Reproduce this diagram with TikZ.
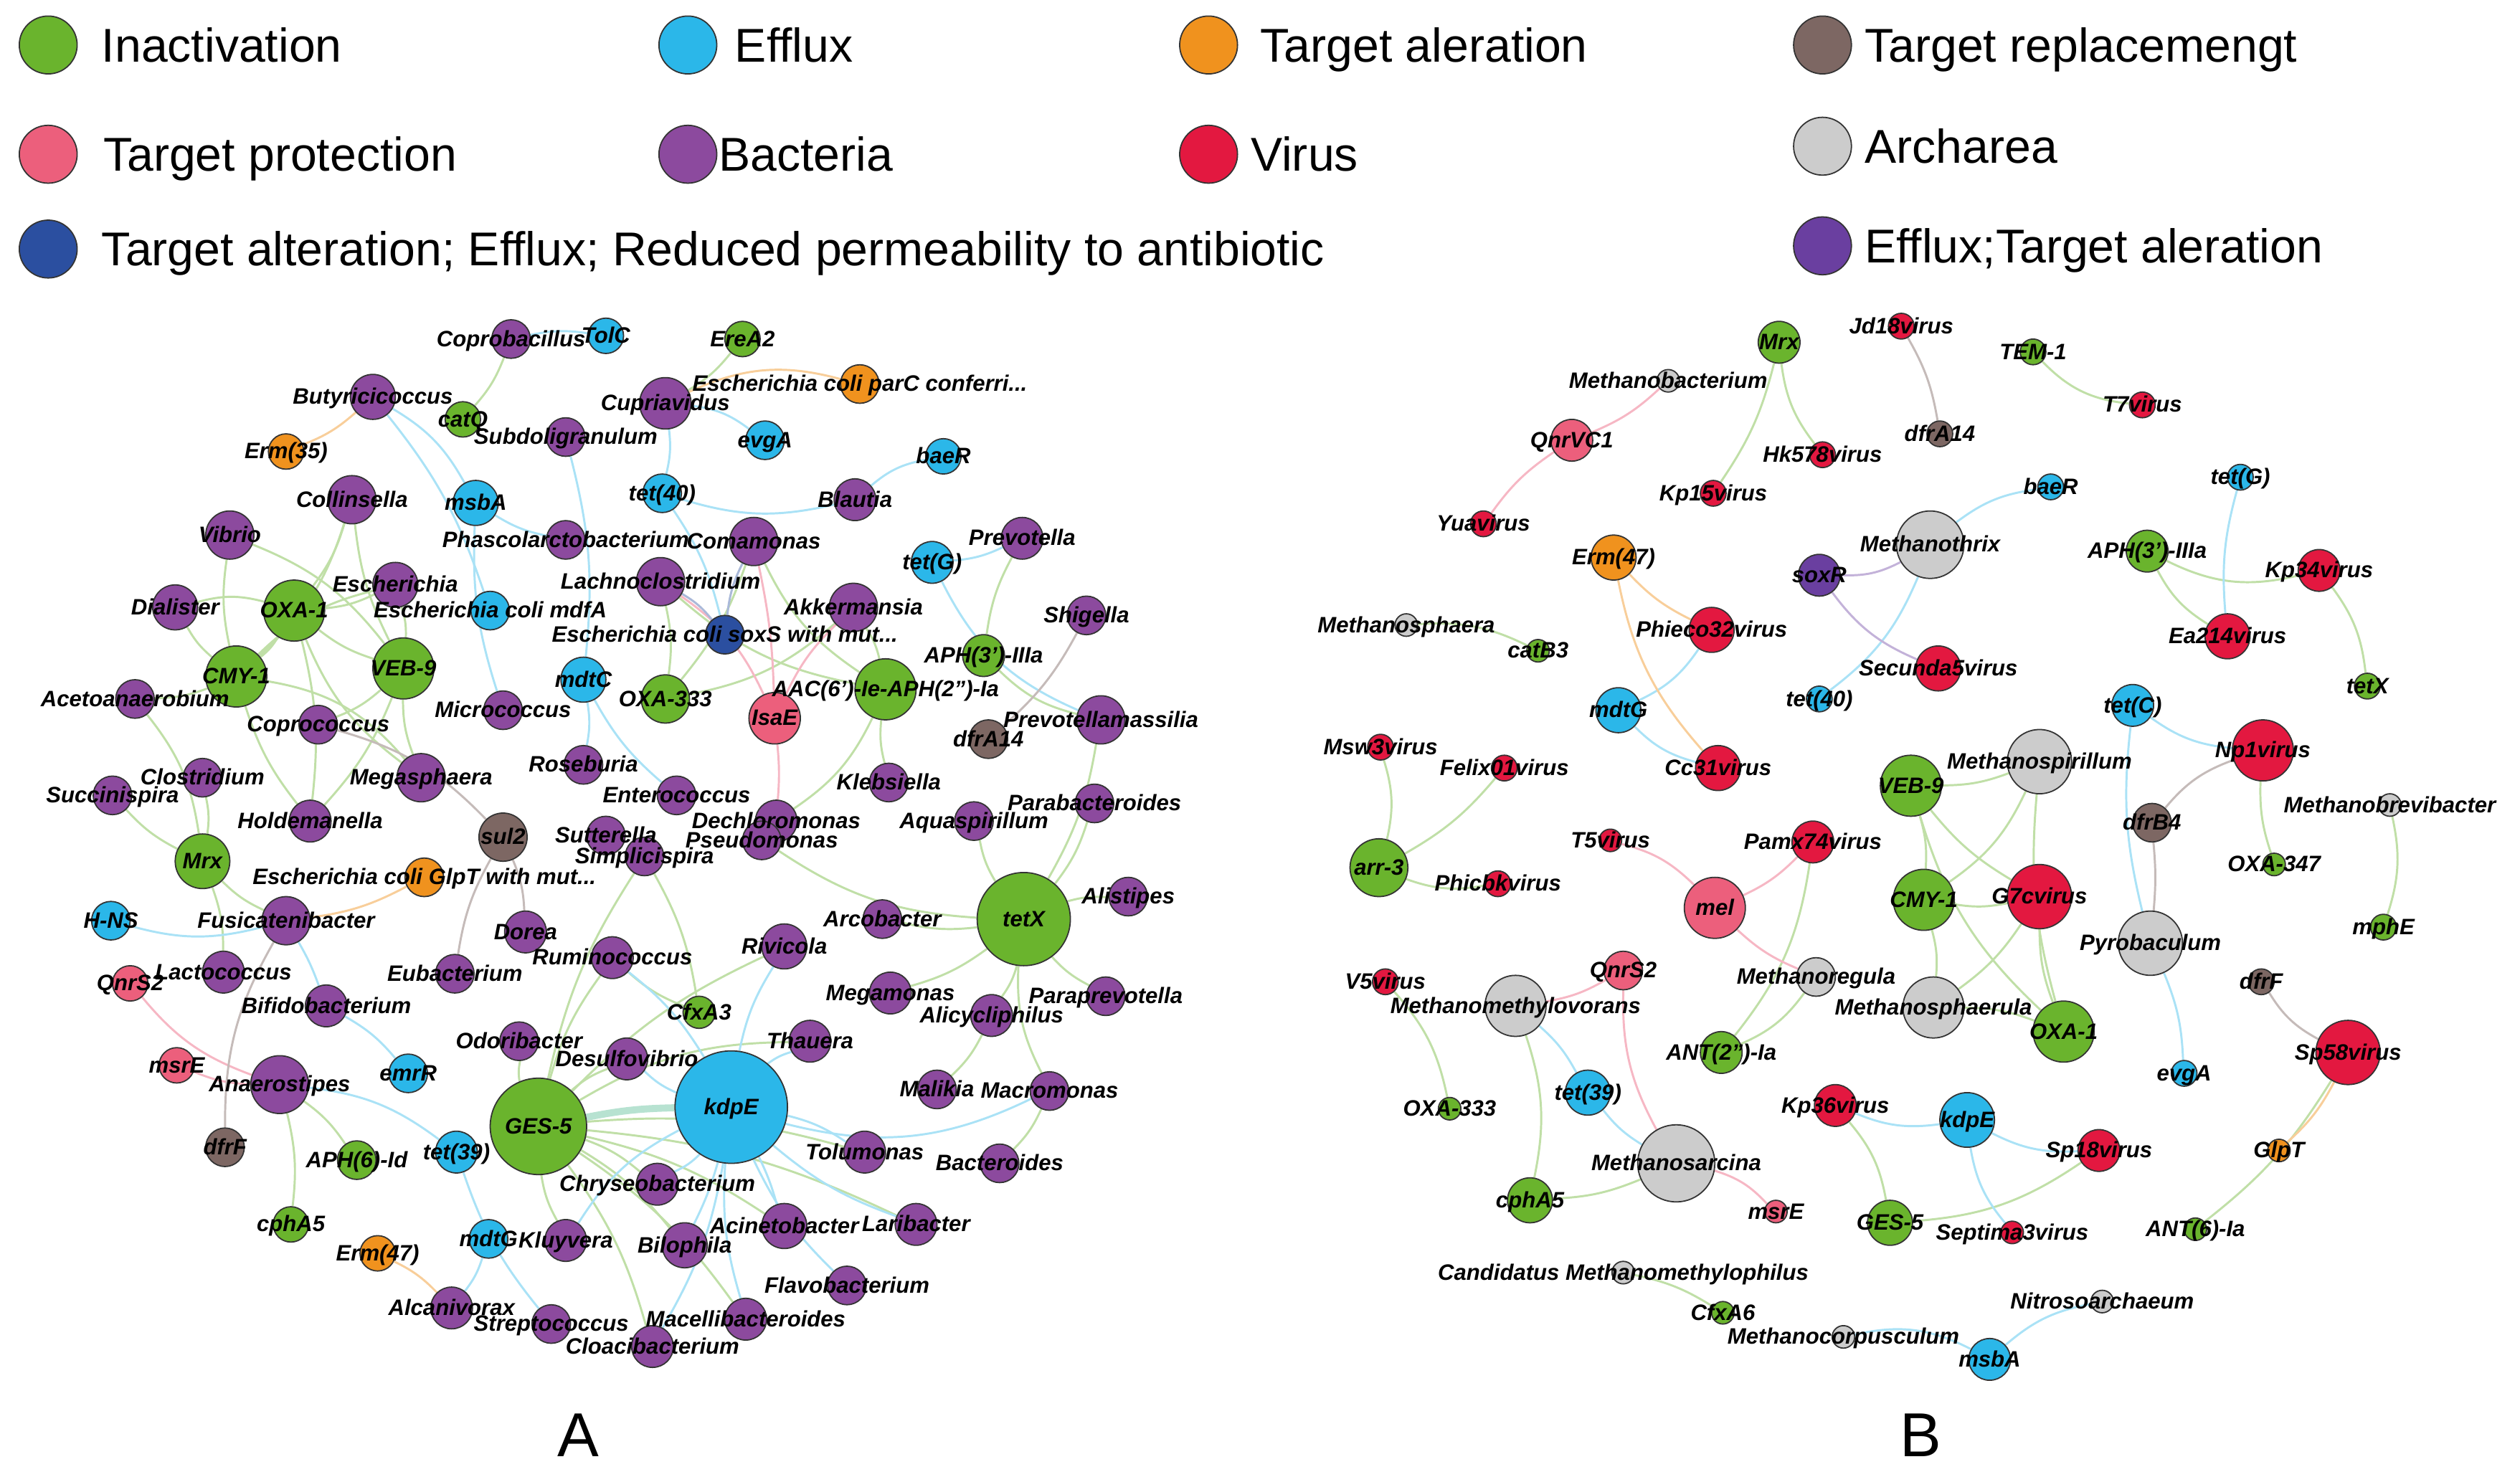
\documentclass[tikz,border=0pt]{standalone}
\usepackage{fontspec}
\setmainfont{Liberation Sans}
\pgfdeclarelayer{bg}
\pgfdeclarelayer{fg}
\pgfsetlayers{bg,main,fg}
\definecolor{cin}{HTML}{6AB42D}
\definecolor{cef}{HTML}{2BB7E9}
\definecolor{cta}{HTML}{F0921E}
\definecolor{ctr}{HTML}{7D6763}
\definecolor{ctp}{HTML}{EC5F7C}
\definecolor{cba}{HTML}{8C4A9E}
\definecolor{cvi}{HTML}{E31840}
\definecolor{car}{HTML}{CCCCCC}
\definecolor{cmd}{HTML}{2B4FA0}
\definecolor{cet}{HTML}{6A3FA0}
\newcommand\labfont{\fontsize{7.9}{9}\selectfont\bfseries\itshape}
\newcommand\legfont{\fontsize{16.8}{20}\selectfont}
\newcommand\ND[6]{\node[nd,fill=#5,minimum size=#4*0.4mm] (#1) at (#2,#3) {};%
  \begin{pgfonlayer}{fg}\node[lab] at (#1.center) {#6};\end{pgfonlayer}}
\newcommand\ED[4][12]{\draw[ed,#4] (#2) to[bend left=#1] (#3);}
\begin{document}
\begin{tikzpicture}[x=0.02cm,y=-0.02cm,
  nd/.style={circle,draw=black!80,line width=0.45pt,inner sep=0pt},
  lab/.style={font=\labfont,inner sep=0pt,text height=0.72em,text depth=0.2em,anchor=center},
  leg/.style={font=\legfont,inner sep=0pt,anchor=base west},
  ed/.style={line width=0.75pt},
  ge/.style={draw=cin!42}, be/.style={draw=cef!40}, pe/.style={draw=ctp!45},
  oe/.style={draw=cta!45}, re/.style={draw=ctr!45}, ve/.style={draw=cet!40}, de/.style={draw=cmd!40}]
\useasboundingbox (0,0) rectangle (1568,919.2);
% ---------------- legend
\node[nd,fill=cin,minimum size=7.2mm] (L1) at (30,28) {};
\node[leg] (T1) at (63,38.5) {Inactivation};
\node[nd,fill=cef,minimum size=7.2mm] (L2) at (428,28) {};
\node[leg] (T2) at (457,38.5) {Efflux};
\node[nd,fill=cta,minimum size=7.2mm] (L3) at (752,28) {};
\node[leg] (T3) at (784,38.5) {Target aleration};
\node[nd,fill=ctr,minimum size=7.2mm] (L4) at (1134,28) {};
\node[leg] (T4) at (1160,38.5) {Target replacemengt};
\node[nd,fill=ctp,minimum size=7.2mm] (L5) at (30,96) {};
\node[leg] (T5) at (64,106.5) {Target protection};
\node[nd,fill=cba,minimum size=7.2mm] (L6) at (428,96) {};
\node[leg] (T6) at (447,106.5) {Bacteria};
\node[nd,fill=cvi,minimum size=7.2mm] (L7) at (752,96) {};
\node[leg] (T7) at (778,106.5) {Virus};
\node[nd,fill=car,minimum size=7.2mm] (L8) at (1134,91) {};
\node[leg] (T8) at (1160,101.5) {Archarea};
\node[nd,fill=cmd,minimum size=7.2mm] (L9) at (30,155) {};
\node[leg] (T9) at (63,165.5) {Target alteration; Efflux; Reduced permeability to antibiotic};
\node[nd,fill=cet,minimum size=7.2mm] (L10) at (1134,153) {};
\node[leg] (T10) at (1160,163.5) {Efflux;Target aleration};
% ---------------- panel A nodes
\ND{aCopro}{318}{211}{12}{cba}{Coprobacillus}
\ND{aTolC}{377}{209}{11}{cef}{TolC}
\ND{aEreA2}{462}{211}{11}{cin}{EreA2}
\ND{aButy}{232}{247}{14}{cba}{Butyricicoccus}
\ND{aCatQ}{288}{261}{11}{cin}{catQ}
\ND{aCupr}{414}{251}{16}{cba}{Cupriavidus}
\ND{aParC}{535}{239}{12}{cta}{Escherichia coli parC conferri...}
\ND{aErm35}{178}{281}{11}{cta}{Erm(35)}
\ND{aSubd}{352}{272}{12}{cba}{Subdoligranulum}
\ND{aEvgA}{476}{274}{12}{cef}{evgA}
\ND{aBaeR}{587}{284}{11}{cef}{baeR}
\ND{aMsbA}{296}{313}{14}{cef}{msbA}
\ND{aTet40}{412}{307}{12}{cef}{tet(40)}
\ND{aBlau}{532}{311}{13}{cba}{Blautia}
\ND{aColl}{219}{311}{15}{cba}{Collinsella}
\ND{aVib}{143}{333}{15}{cba}{Vibrio}
\ND{aPhas}{352}{336}{12}{cba}{Phascolarctobacterium}
\ND{aComa}{469}{337}{15}{cba}{Comamonas}
\ND{aTetG}{580}{350}{13}{cef}{tet(G)}
\ND{aPrev}{636}{335}{13}{cba}{Prevotella}
\ND{aEsch}{246}{364}{14}{cba}{Escherichia}
\ND{aOXA1}{183}{380}{19}{cin}{OXA-1}
\ND{aDial}{109}{378}{14}{cba}{Dialister}
\ND{aMdfA}{305}{380}{12}{cef}{Escherichia coli mdfA}
\ND{aLach}{411}{362}{15}{cba}{Lachnoclostridium}
\ND{aAkk}{531}{378}{15}{cba}{Akkermansia}
\ND{aSoxS}{451}{395}{12}{cmd}{Escherichia coli soxS with mut...}
\ND{aShig}{676}{383}{12}{cba}{Shigella}
\ND{aCMY1}{147}{421}{19}{cin}{CMY-1}
\ND{aVEB9}{251}{416}{19}{cin}{VEB-9}
\ND{aMdtC}{363}{423}{14}{cef}{mdtC}
\ND{aOXA333}{414}{435}{15}{cin}{OXA-333}
\ND{aAAC}{551}{429}{19}{cin}{AAC(6')-Ie-APH(2'')-Ia}
\ND{aAPH3}{612}{408}{13}{cin}{APH(3')-IIIa}
\ND{aIsaE}{482}{447}{16}{ctp}{IsaE}
\ND{aAcet}{84}{435}{12}{cba}{Acetoanaerobium}
\ND{aMicr}{313}{442}{12}{cba}{Micrococcus}
\ND{aCopc}{198}{451}{12}{cba}{Coprococcus}
\ND{aPrvm}{685}{448}{15}{cba}{Prevotellamassilia}
\ND{aDfrA14}{615}{460}{12}{ctr}{dfrA14}
\ND{aClos}{126}{484}{12}{cba}{Clostridium}
\ND{aSucc}{70}{495}{12}{cba}{Succinispira}
\ND{aMega}{262}{484}{15}{cba}{Megasphaera}
\ND{aRose}{363}{476}{12}{cba}{Roseburia}
\ND{aEnte}{421}{495}{12}{cba}{Enterococcus}
\ND{aKleb}{553}{487}{12}{cba}{Klebsiella}
\ND{aDech}{483}{511}{13}{cba}{Dechloromonas}
\ND{aAqua}{606}{511}{12}{cba}{Aquaspirillum}
\ND{aPara}{681}{500}{12}{cba}{Parabacteroides}
\ND{aHold}{193}{511}{13}{cba}{Holdemanella}
\ND{aSul2}{313}{521}{15}{ctr}{sul2}
\ND{aSutt}{377}{520}{12}{cba}{Sutterella}
\ND{aMrx}{126}{536}{17}{cin}{Mrx}
\ND{aGlpT}{264}{546}{12}{cta}{Escherichia coli GlpT with mut...}
\ND{aFusi}{178}{573}{15}{cba}{Fusicatenibacter}
\ND{aHNS}{69}{573}{12}{cef}{H-NS}
\ND{aSimp}{401}{533}{12}{cba}{Simplicispira}
\ND{aPseu}{474}{523}{12}{cba}{Pseudomonas}
\ND{aDore}{327}{580}{13}{cba}{Dorea}
\ND{aArco}{549}{572}{12}{cba}{Arcobacter}
\ND{aTetX}{637}{572}{29}{cin}{tetX}
\ND{aAlis}{702}{558}{12}{cba}{Alistipes}
\ND{aRivi}{488}{589}{14}{cba}{Rivicola}
\ND{aRumi}{381}{596}{13}{cba}{Ruminococcus}
\ND{aLact}{139}{605}{13}{cba}{Lactococcus}
\ND{aQnrS2}{81}{612}{11}{ctp}{QnrS2}
\ND{aEuba}{283}{606}{12}{cba}{Eubacterium}
\ND{aBifi}{203}{626}{13}{cba}{Bifidobacterium}
\ND{aCfxA3}{435}{630}{10}{cin}{CfxA3}
\ND{aMegm}{554}{618}{13}{cba}{Megamonas}
\ND{aAlic}{617}{632}{13}{cba}{Alicycliphilus}
\ND{aPapr}{688}{620}{12}{cba}{Paraprevotella}
\ND{aOdor}{323}{648}{12}{cba}{Odoribacter}
\ND{aDesu}{390}{659}{13}{cba}{Desulfovibrio}
\ND{aThau}{504}{648}{13}{cba}{Thauera}
\ND{aMsrE}{110}{663}{11}{ctp}{msrE}
\ND{aAnae}{174}{675}{18}{cba}{Anaerostipes}
\ND{aEmrR}{254}{668}{12}{cef}{emrR}
\ND{aMali}{583}{678}{12}{cba}{Malikia}
\ND{aMacr}{653}{679}{12}{cba}{Macromonas}
\ND{aGES5}{335}{701}{30}{cin}{GES-5}
\ND{aKdpE}{455}{689}{35}{cef}{kdpE}
\ND{aDfrF}{140}{714}{12}{ctr}{dfrF}
\ND{aAPH6}{222}{722}{12}{cin}{APH(6)-Id}
\ND{aTet39}{284}{717}{13}{cef}{tet(39)}
\ND{aTolu}{538}{717}{13}{cba}{Tolumonas}
\ND{aBact}{622}{724}{12}{cba}{Bacteroides}
\ND{aChry}{409}{737}{13}{cba}{Chryseobacterium}
\ND{aCphA5}{181}{762}{11}{cin}{cphA5}
\ND{aMdtG}{304}{771}{12}{cef}{mdtG}
\ND{aKluy}{352}{772}{13}{cba}{Kluyvera}
\ND{aAcin}{488}{763}{14}{cba}{Acinetobacter}
\ND{aLari}{570}{762}{13}{cba}{Laribacter}
\ND{aBilo}{426}{775}{14}{cba}{Bilophila}
\ND{aErm47}{235}{780}{11}{cta}{Erm(47)}
\ND{aAlca}{281}{814}{13}{cba}{Alcanivorax}
\ND{aStre}{343}{824}{12}{cba}{Streptococcus}
\ND{aFlav}{527}{800}{12}{cba}{Flavobacterium}
\ND{aMace}{464}{821}{13}{cba}{Macellibacteroides}
\ND{aCloa}{406}{838}{13}{cba}{Cloacibacterium}
% ---------------- panel B nodes
\ND{bMrx}{1107}{213}{13}{cin}{Mrx}
\ND{bJd18}{1183}{203}{8}{cvi}{Jd18virus}
\ND{bTEM}{1265}{219}{8}{cin}{TEM-1}
\ND{bMbac}{1038}{237}{7}{car}{Methanobacterium}
\ND{bT7}{1333}{252}{8}{cvi}{T7virus}
\ND{bQnrVC1}{978}{274}{13}{ctp}{QnrVC1}
\ND{bDfrA14}{1207}{270}{8}{ctr}{dfrA14}
\ND{bHk578}{1134}{283}{8}{cvi}{Hk578virus}
\ND{bKp15}{1066}{307}{8}{cvi}{Kp15virus}
\ND{bTetG}{1394}{297}{8}{cef}{tet(G)}
\ND{bBaeR}{1276}{303}{8}{cef}{baeR}
\ND{bYua}{923}{326}{8}{cvi}{Yuavirus}
\ND{bErm47}{1004}{347}{14}{cta}{Erm(47)}
\ND{bMthx}{1201}{339}{21}{car}{Methanothrix}
\ND{bAPH3}{1336}{343}{13}{cin}{APH(3')-IIIa}
\ND{bKp34}{1443}{355}{13}{cvi}{Kp34virus}
\ND{bSoxR}{1132}{358}{13}{cet}{soxR}
\ND{bMsph}{875}{389}{7}{car}{Methanosphaera}
\ND{bCatB3}{957}{405}{7}{cin}{catB3}
\ND{bPhie}{1065}{392}{14}{cvi}{Phieco32virus}
\ND{bEa214}{1386}{396}{14}{cvi}{Ea214virus}
\ND{bSecu}{1206}{416}{14}{cvi}{Secunda5virus}
\ND{bTet40}{1132}{435}{8}{cef}{tet(40)}
\ND{bTetX}{1473}{427}{8}{cin}{tetX}
\ND{bMdtG}{1007}{442}{14}{cef}{mdtG}
\ND{bTetC}{1327}{439}{13}{cef}{tet(C)}
\ND{bMsw3}{859}{465}{8}{cvi}{Msw3virus}
\ND{bFelix}{936}{478}{8}{cvi}{Felix01virus}
\ND{bCc31}{1069}{478}{14}{cvi}{Cc31virus}
\ND{bNp1}{1408}{467}{19}{cvi}{Np1virus}
\ND{bMspir}{1269}{474}{20}{car}{Methanospirillum}
\ND{bVEB9}{1189}{489}{19}{cin}{VEB-9}
\ND{bMbrev}{1487}{501}{7}{car}{Methanobrevibacter}
\ND{bDfrB4}{1339}{512}{12}{ctr}{dfrB4}
\ND{bT5}{1002}{523}{7}{cvi}{T5virus}
\ND{bPamx}{1128}{524}{13}{cvi}{Pamx74virus}
\ND{bArr3}{858}{540}{18}{cin}{arr-3}
\ND{bOXA347}{1415}{538}{7}{cin}{OXA-347}
\ND{bPhicbk}{932}{550}{8}{cvi}{Phicbkvirus}
\ND{bCMY1}{1197}{560}{19}{cin}{CMY-1}
\ND{bG7c}{1269}{558}{20}{cvi}{G7cvirus}
\ND{bMel}{1067}{565}{19}{ctp}{mel}
\ND{bMphE}{1483}{577}{8}{cin}{mphE}
\ND{bPyro}{1338}{587}{20}{car}{Pyrobaculum}
\ND{bV5}{862}{611}{8}{cvi}{V5virus}
\ND{bQnrS2}{1010}{604}{12}{ctp}{QnrS2}
\ND{bMmv}{943}{626}{19}{car}{Methanomethylovorans}
\ND{bMreg}{1130}{608}{12}{car}{Methanoregula}
\ND{bDfrF}{1407}{611}{8}{ctr}{dfrF}
\ND{bMsphl}{1203}{627}{19}{car}{Methanosphaerula}
\ND{bOXA1}{1284}{642}{19}{cin}{OXA-1}
\ND{bANT2}{1071}{655}{13}{cin}{ANT(2'')-Ia}
\ND{bSp58}{1461}{655}{20}{cvi}{Sp58virus}
\ND{bEvgA}{1359}{668}{8}{cef}{evgA}
\ND{bOXA333}{902}{690}{7}{cin}{OXA-333}
\ND{bTet39}{988}{680}{14}{cef}{tet(39)}
\ND{bKp36}{1142}{688}{13}{cvi}{Kp36virus}
\ND{bKdpE}{1224}{697}{17}{cef}{kdpE}
\ND{bSp18}{1306}{716}{13}{cvi}{Sp18virus}
\ND{bGlpT}{1418}{716}{7}{cta}{GlpT}
\ND{bMsar}{1043}{724}{24}{car}{Methanosarcina}
\ND{bCphA5}{952}{747}{14}{cin}{cphA5}
\ND{bMsrE}{1105}{754}{7}{ctp}{msrE}
\ND{bGES5}{1176}{761}{14}{cin}{GES-5}
\ND{bSept}{1252}{767}{7}{cvi}{Septima3virus}
\ND{bANT6}{1366}{765}{7}{cin}{ANT(6)-Ia}
\ND{bCand}{1010}{792}{7}{car}{Candidatus Methanomethylophilus}
\ND{bNitro}{1308}{810}{7}{car}{Nitrosoarchaeum}
\ND{bCfxA6}{1072}{817}{7}{cin}{CfxA6}
\ND{bMcorp}{1147}{832}{7}{car}{Methanocorpusculum}
\ND{bMsbA}{1238}{846}{13}{cef}{msbA}
% panel letters
\node[font=\fontsize{22}{26}\selectfont,inner sep=0pt] (pA) at (360,893) {A};
\node[font=\fontsize{22}{26}\selectfont,inner sep=0pt] (pB) at (1195,893) {B};
% ---------------- edges
\begin{pgfonlayer}{bg}
% panel A green
\ED[10]{aCopro}{aCatQ}{ge}\ED[-10]{aCupr}{aEreA2}{ge}
\ED[10]{aColl}{aOXA1}{ge}\ED[15]{aColl}{aCMY1}{ge}\ED[-10]{aColl}{aVEB9}{ge}
\ED[-10]{aVib}{aCMY1}{ge}\ED[15]{aVib}{aVEB9}{ge}
\ED[10]{aEsch}{aOXA1}{ge}\ED[10]{aEsch}{aVEB9}{ge}\ED[-15]{aEsch}{aCMY1}{ge}
\ED[15]{aDial}{aOXA1}{ge}\ED[-10]{aDial}{aCMY1}{ge}
\ED[-10]{aOXA1}{aVEB9}{ge}\ED[10]{aOXA1}{aCMY1}{ge}\ED[10]{aOXA1}{aHold}{ge}\ED[-15]{aOXA1}{aMega}{ge}
\ED[20]{aCMY1}{aMega}{ge}\ED[10]{aCMY1}{aAcet}{ge}\ED[-10]{aCMY1}{aHold}{ge}
\ED[-10]{aVEB9}{aMega}{ge}\ED[10]{aVEB9}{aHold}{ge}\ED[10]{aVEB9}{aCopc}{ge}
\ED[15]{aAcet}{aMrx}{ge}\ED[10]{aClos}{aMrx}{ge}\ED[-10]{aSucc}{aMrx}{ge}
\ED[-10]{aMrx}{aFusi}{ge}\ED[10]{aMrx}{aLact}{ge}
\ED[10]{aComa}{aOXA333}{ge}\ED[-15]{aComa}{aAAC}{ge}\ED[10]{aLach}{aOXA333}{ge}\ED[-15]{aLach}{aAAC}{ge}
\ED[15]{aAkk}{aOXA333}{ge}\ED[10]{aAkk}{aAAC}{ge}\ED[-10]{aAAC}{aKleb}{ge}\ED[15]{aAAC}{aDech}{ge}
\ED[10]{aAPH3}{aPrev}{ge}\ED[-15]{aAPH3}{aPrvm}{ge}
\ED[10]{aTetX}{aArco}{ge}\ED[10]{aTetX}{aAlis}{ge}\ED[-10]{aTetX}{aPapr}{ge}\ED[10]{aTetX}{aAlic}{ge}
\ED[-15]{aTetX}{aMacr}{ge}\ED[10]{aTetX}{aAqua}{ge}\ED[-10]{aTetX}{aPara}{ge}\ED[15]{aTetX}{aPseu}{ge}
\ED[10]{aTetX}{aMegm}{ge}\ED[-10]{aTetX}{aPrvm}{ge}\ED[10]{aAlic}{aMali}{ge}\ED[10]{aMacr}{aBact}{ge}
\ED[10]{aGES5}{aOdor}{ge}\ED[10]{aGES5}{aDesu}{ge}\ED[10]{aGES5}{aRumi}{ge}\ED[10]{aGES5}{aSimp}{ge}
\ED[10]{aGES5}{aRivi}{ge}\ED[15]{aGES5}{aThau}{ge}\ED[10]{aGES5}{aChry}{ge}\ED[-10]{aGES5}{aKluy}{ge}
\ED[10]{aGES5}{aBilo}{ge}\ED[10]{aGES5}{aMace}{ge}\ED[10]{aGES5}{aCloa}{ge}\ED[10]{aGES5}{aAcin}{ge}
\ED[10]{aGES5}{aTolu}{ge}\ED[10]{aGES5}{aLari}{ge}
\ED[10]{aCfxA3}{aRumi}{ge}\ED[-10]{aCfxA3}{aSimp}{ge}
\ED[10]{aAnae}{aAPH6}{ge}\ED[10]{aAnae}{aCphA5}{ge}
% panel A blue
\ED[10]{aCopro}{aTolC}{be}\ED[15]{aButy}{aMsbA}{be}\ED[10]{aButy}{aMdfA}{be}
\ED[10]{aSubd}{aMdtC}{be}\ED[-10]{aMsbA}{aPhas}{be}\ED[-10]{aMsbA}{aMicr}{be}
\ED[15]{aCupr}{aEvgA}{be}\ED[10]{aCupr}{aTet40}{be}\ED[-15]{aTet40}{aBlau}{be}\ED[15]{aBlau}{aBaeR}{be}
\ED[10]{aTet40}{aSoxS}{be}\ED[10]{aMdtC}{aRose}{be}\ED[-10]{aMdtC}{aEnte}{be}
\ED[-10]{aTetG}{aPrev}{be}\ED[-20]{aTetG}{aPrvm}{be}
\ED[-15]{aHNS}{aFusi}{be}\ED[5]{aFusi}{aBifi}{be}\ED[10]{aBifi}{aEmrR}{be}
\ED[15]{aAnae}{aTet39}{be}\ED[-10]{aTet39}{aStre}{be}\ED[10]{aMdtG}{aAlca}{be}\ED[15]{aKluy}{aKdpE}{be}
\ED[10]{aKdpE}{aRivi}{be}\ED[10]{aKdpE}{aThau}{be}\ED[-20]{aKdpE}{aMacr}{be}\ED[10]{aKdpE}{aTolu}{be}
\ED[-10]{aKdpE}{aLari}{be}\ED[-10]{aKdpE}{aFlav}{be}\ED[5]{aKdpE}{aAcin}{be}\ED[5]{aKdpE}{aBilo}{be}
\ED[-10]{aKdpE}{aMace}{be}\ED[10]{aKdpE}{aCloa}{be}\ED[10]{aKdpE}{aChry}{be}\ED[10]{aKdpE}{aDesu}{be}
\ED[-10]{aKdpE}{aRumi}{be}
\draw[line width=2.5pt,draw=cef!50!cin!40] (aGES5) to[bend left=5] (aKdpE);
% panel A pink, orange, brown, dark blue
\ED[5]{aComa}{aIsaE}{pe}\ED[15]{aLach}{aIsaE}{pe}\ED[-10]{aAkk}{aIsaE}{pe}\ED[5]{aIsaE}{aDech}{pe}
\ED[-15]{aQnrS2}{aAnae}{pe}\ED[-10]{aMsrE}{aAnae}{pe}
\ED[10]{aButy}{aErm35}{oe}\ED[20]{aCupr}{aParC}{oe}\ED[-10]{aFusi}{aGlpT}{oe}\ED[10]{aErm47}{aAlca}{oe}
\ED[10]{aShig}{aDfrA14}{re}\ED[15]{aCopc}{aSul2}{re}\ED[10]{aSul2}{aDore}{re}\ED[-10]{aSul2}{aEuba}{re}\ED[15]{aDfrF}{aFusi}{re}
\ED[10]{aLach}{aSoxS}{de}\ED[10]{aSoxS}{aComa}{de}
% panel B
\ED[-15]{bMrx}{bHk578}{ge}\ED[10]{bMrx}{bKp15}{ge}\ED[-20]{bTEM}{bT7}{ge}\ED[15]{bMsph}{bCatB3}{ge}
\ED[-20]{bAPH3}{bKp34}{ge}\ED[-15]{bAPH3}{bEa214}{ge}\ED[15]{bKp34}{bTetX}{ge}
\ED[15]{bMsw3}{bArr3}{ge}\ED[10]{bFelix}{bArr3}{ge}\ED[-15]{bArr3}{bPhicbk}{ge}
\ED[-10]{bNp1}{bOXA347}{ge}\ED[15]{bMbrev}{bMphE}{ge}
\ED[10]{bMspir}{bVEB9}{ge}\ED[15]{bMspir}{bCMY1}{ge}\ED[-10]{bMspir}{bOXA1}{ge}
\ED[-10]{bVEB9}{bG7c}{ge}\ED[-15]{bVEB9}{bOXA1}{ge}\ED[10]{bVEB9}{bCMY1}{ge}
\ED[-10]{bCMY1}{bG7c}{ge}\ED[10]{bCMY1}{bMsphl}{ge}\ED[-10]{bG7c}{bOXA1}{ge}\ED[10]{bMsphl}{bOXA1}{ge}\ED[10]{bG7c}{bMsphl}{ge}
\ED[15]{bPamx}{bANT2}{ge}\ED[15]{bMreg}{bANT2}{ge}\ED[15]{bV5}{bOXA333}{ge}
\ED[15]{bMmv}{bCphA5}{ge}\ED[10]{bMsar}{bCphA5}{ge}\ED[15]{bKp36}{bGES5}{ge}\ED[-15]{bGES5}{bSp18}{ge}
\ED[10]{bSp58}{bANT6}{ge}\ED[10]{bCand}{bCfxA6}{ge}
\ED[-15]{bBaeR}{bMthx}{be}\ED[-10]{bTetG}{bEa214}{be}\ED[15]{bMthx}{bTet40}{be}
\ED[15]{bPhie}{bMdtG}{be}\ED[-15]{bMdtG}{bCc31}{be}\ED[-15]{bTetC}{bNp1}{be}\ED[-10]{bTetC}{bPyro}{be}
\ED[10]{bPyro}{bEvgA}{be}\ED[10]{bMmv}{bTet39}{be}\ED[-10]{bTet39}{bMsar}{be}
\ED[-15]{bKp36}{bKdpE}{be}\ED[-15]{bKdpE}{bSp18}{be}\ED[-15]{bKdpE}{bSept}{be}
\ED[20]{bMcorp}{bMsbA}{be}\ED[-15]{bNitro}{bMsbA}{be}
\ED[10]{bMbac}{bQnrVC1}{pe}\ED[-10]{bQnrVC1}{bYua}{pe}\ED[15]{bT5}{bMel}{pe}\ED[10]{bPamx}{bMel}{pe}
\ED[-10]{bMel}{bMreg}{pe}\ED[-15]{bQnrS2}{bMsar}{pe}\ED[10]{bQnrS2}{bMmv}{pe}\ED[15]{bMsar}{bMsrE}{pe}
\ED[-10]{bErm47}{bPhie}{oe}\ED[-15]{bErm47}{bCc31}{oe}\ED[10]{bSp58}{bGlpT}{oe}
\ED[10]{bJd18}{bDfrA14}{re}\ED[-15]{bNp1}{bDfrB4}{re}\ED[5]{bDfrB4}{bPyro}{re}\ED[-15]{bDfrF}{bSp58}{re}
\ED[-15]{bSoxR}{bMthx}{ve}\ED[-15]{bSoxR}{bSecu}{ve}
\end{pgfonlayer}
\end{tikzpicture}
\end{document}
